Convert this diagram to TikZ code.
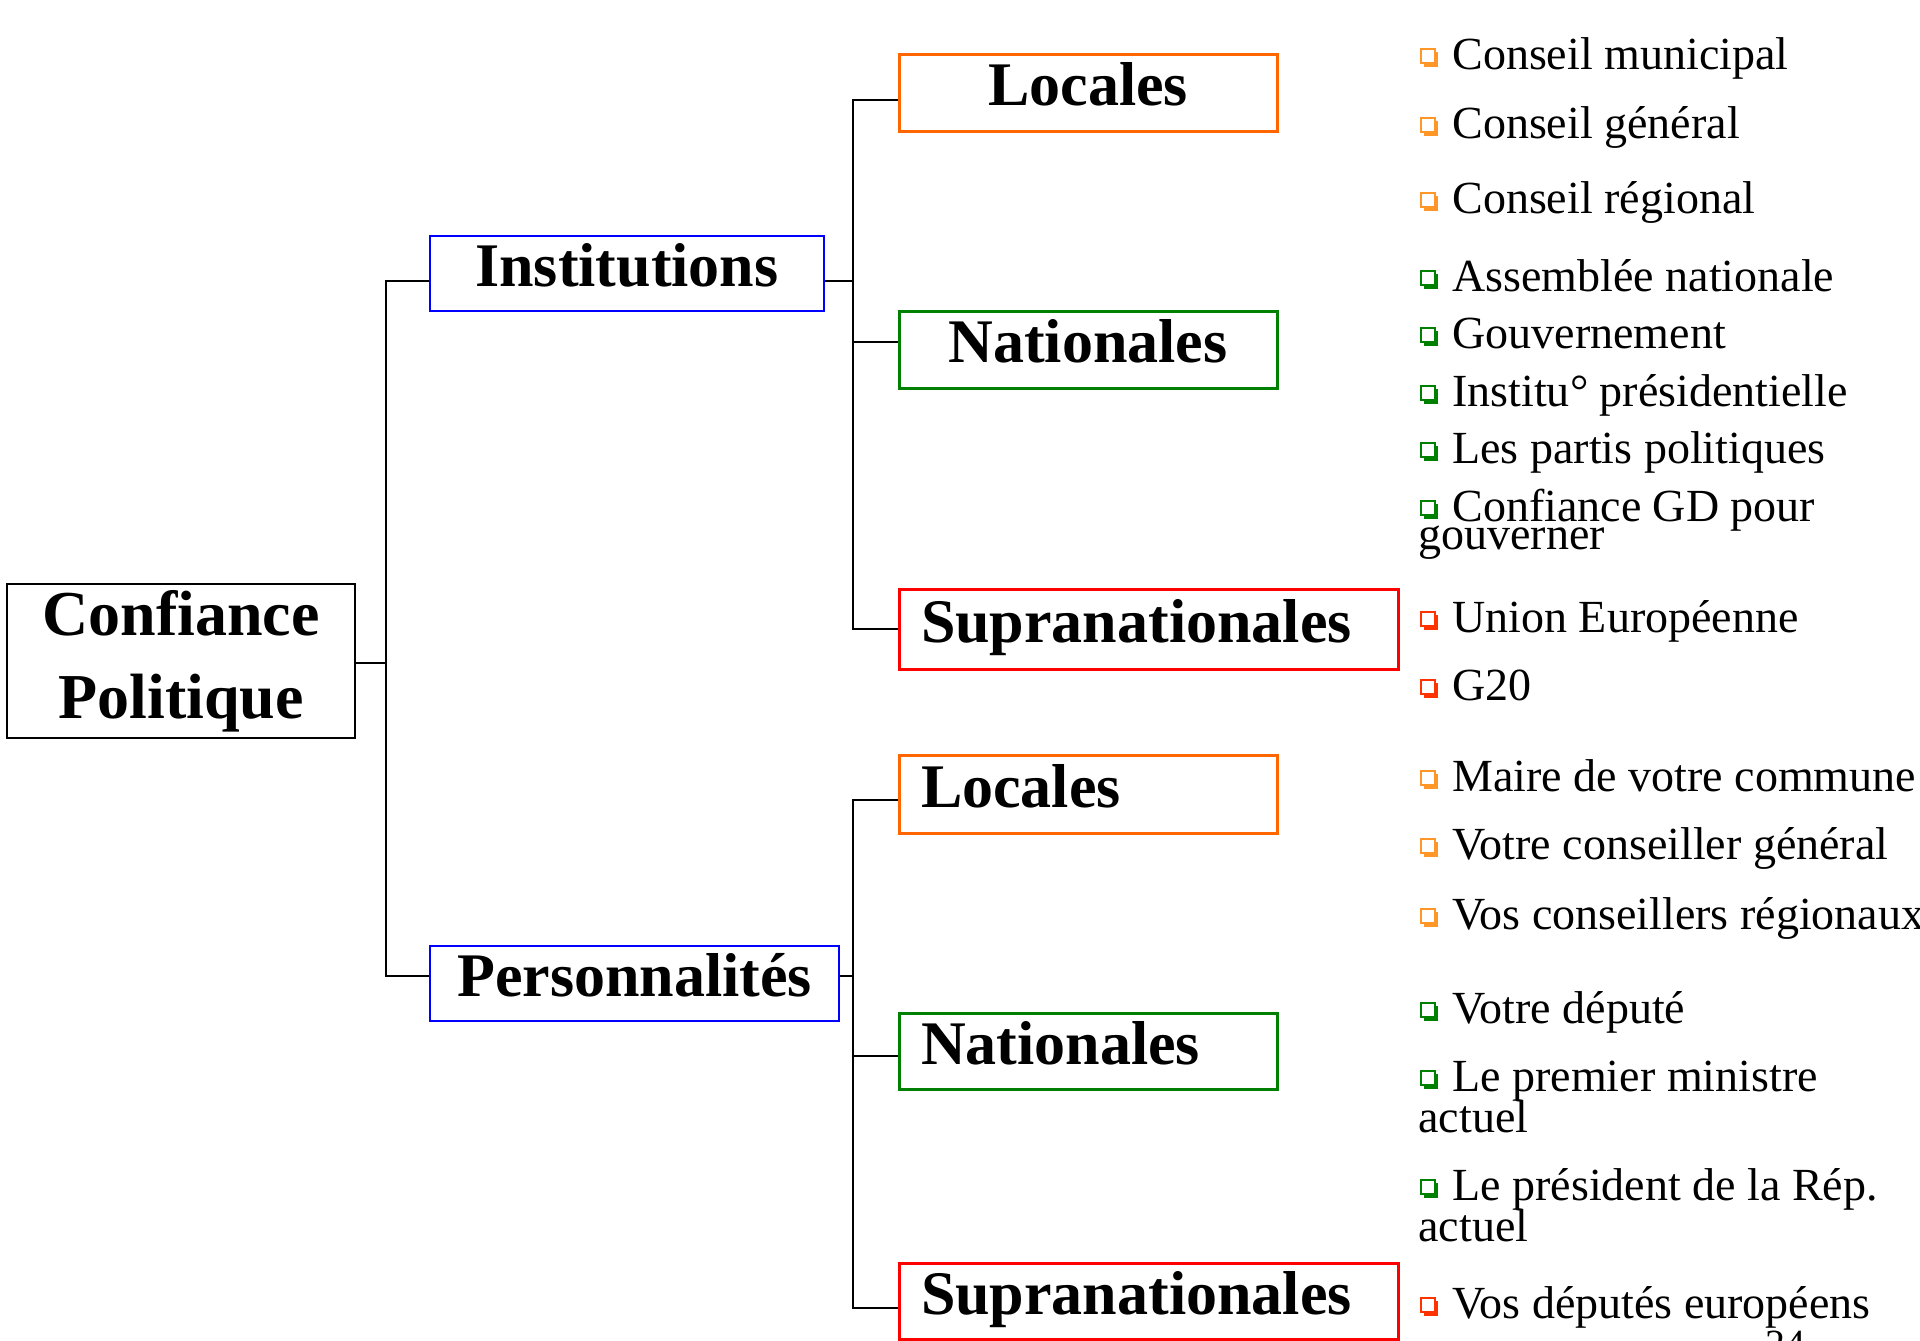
\documentclass[tikz,border=0pt]{standalone}
\usepackage{fontspec}
\setmainfont{Liberation Serif}
\definecolor{borange}{RGB}{255,102,0}
\definecolor{bgreen}{RGB}{0,128,0}
\definecolor{bred}{RGB}{255,0,0}
\definecolor{bblue}{RGB}{0,0,255}
\definecolor{korange}{RGB}{255,150,40}
\definecolor{kgreen}{RGB}{0,128,0}
\definecolor{kred}{RGB}{255,51,0}
\newcommand\bulitem[4]{%
  \fill[#2] (1424,#3-17) rectangle (1438,#3-2.5);
  \filldraw[fill=white, draw=#2, line width=0.7pt] (1421,#3-20) rectangle (1435,#3-6);
  \node[itemtxt] (#1) at (1452,#3) {#4};}
\tikzset{
  conn/.style={line width=1pt, black},
  boxbase/.style={draw, inner sep=0pt, font=\bfseries\fontsize{31}{37}\selectfont, text height=13pt, text depth=0pt},
  orangebox/.style={boxbase, draw=borange, line width=1.5pt},
  greenbox/.style={boxbase, draw=bgreen, line width=1.5pt},
  redbox/.style={boxbase, draw=bred, line width=1.5pt},
  bluebox/.style={boxbase, draw=bblue, line width=1pt, minimum height=37.5pt},
  leftal/.style={inner xsep=11pt, text width=#1, align=left},
  itemtxt/.style={inner sep=0pt, font=\fontsize{23}{26}\selectfont, anchor=base west},
  contline/.style={inner sep=0pt, font=\fontsize{23}{26}\selectfont, anchor=base west},
}
\begin{document}
\begin{tikzpicture}[x=0.5pt,y=-0.5pt]
\useasboundingbox (0,0) rectangle (1920,1340);
% main boxes
\node[draw, line width=1.2pt, inner sep=0pt, minimum width=174pt, minimum height=77pt,
      align=center, font=\bfseries\fontsize{32}{41.5}\selectfont] (root) at (181,661) {Confiance\\Politique};
\node[bluebox, minimum width=197pt] (inst) at (627,273.5) {Institutions};
\node[bluebox, minimum width=204.5pt] (pers) at (634.5,983.5) {Personnalités};
% level 3 top
\node[orangebox, minimum width=189pt, minimum height=38.5pt] (loc1) at (1088,92.5) {Locales};
\node[greenbox, minimum width=189pt, minimum height=38.5pt] (nat1) at (1088,349.5) {Nationales};
\node[redbox, leftal=227.5pt, minimum height=40pt] (sup1) at (1148.5,629) {Supranationales};
% level 3 bottom
\node[orangebox, leftal=167pt, minimum height=39pt] (loc2) at (1088,794) {Locales};
\node[greenbox, leftal=167pt, minimum height=38pt] (nat2) at (1088,1051) {Nationales};
\node[redbox, leftal=227.5pt, minimum height=38pt] (sup2) at (1148.5,1301) {Supranationales};
% attachment points
\coordinate (j1) at (386,661);
\coordinate (j2) at (853,0);
\coordinate (rootE) at ([yshift=-1pt]root.east);
\coordinate (instW) at ([yshift=-3.7pt]inst.west);
\coordinate (instE) at ([yshift=-3.7pt]inst.east);
\coordinate (persW) at ([yshift=3.7pt]pers.west);
\coordinate (persE) at ([yshift=3.7pt]pers.east);
\coordinate (loc1W) at ([yshift=-3.7pt]loc1.west);
\coordinate (nat1W) at ([yshift=3.7pt]nat1.west);
\coordinate (sup1W) at (sup1.west);
\coordinate (loc2W) at ([yshift=-3pt]loc2.west);
\coordinate (nat2W) at ([yshift=-2.5pt]nat2.west);
\coordinate (sup2W) at ([yshift=-3.7pt]sup2.west);
% connectors
\draw[conn] (rootE) -- (rootE -| j1);
\draw[conn] (instW) -- (instW -| j1) -- (persW -| j1) -- (persW);
\draw[conn] (instE) -- (instE -| j2);
\draw[conn] (loc1W) -- (loc1W -| j2) -- (sup1W -| j2) -- (sup1W);
\draw[conn] (nat1W) -- (nat1W -| j2);
\draw[conn] (persE) -- (persE -| j2);
\draw[conn] (loc2W) -- (loc2W -| j2) -- (sup2W -| j2) -- (sup2W);
\draw[conn] (nat2W) -- (nat2W -| j2);
% items
\bulitem{i1}{korange}{69}{Conseil municipal}
\bulitem{i2}{korange}{138}{Conseil général}
\bulitem{i3}{korange}{213}{Conseil régional}
\bulitem{i4}{kgreen}{291}{Assemblée nationale}
\bulitem{i5}{kgreen}{348}{Gouvernement}
\bulitem{i6}{kgreen}{406}{Institu° présidentielle}
\bulitem{i7}{kgreen}{463}{Les partis politiques}
\bulitem{i8}{kgreen}{521}{Confiance GD pour}
\node[contline] (i8b) at (1418,549) {gouverner};
\bulitem{i9}{kred}{632}{Union Européenne}
\bulitem{i10}{kred}{700}{G20}
\bulitem{i11}{korange}{791}{Maire de votre commune}
\bulitem{i12}{korange}{859}{Votre conseiller général}
\bulitem{i13}{korange}{929}{Vos conseillers régionaux}
\bulitem{i14}{kgreen}{1023}{Votre député}
\bulitem{i15}{kgreen}{1091}{Le premier ministre}
\node[contline] (i15b) at (1418,1132) {actuel};
\bulitem{i16}{kgreen}{1200}{Le président de la Rép.}
\node[contline] (i16b) at (1418,1241) {actuel};
\bulitem{i17}{kred}{1318}{Vos députés européens}
\node[inner sep=0pt, anchor=base west, font=\fontsize{20}{24}\selectfont] (pagenum) at (1765,1357) {24};
\end{tikzpicture}
\end{document}
